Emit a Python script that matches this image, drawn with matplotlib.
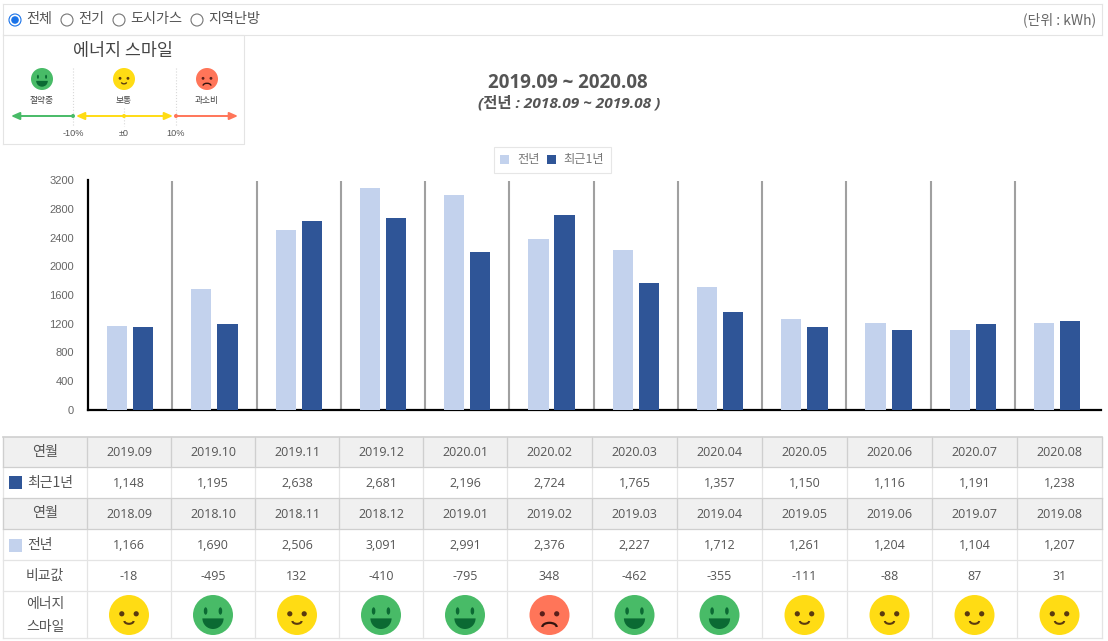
import numpy as np
import matplotlib
matplotlib.use("Agg")
import matplotlib.pyplot as plt
from matplotlib.patches import Circle, Rectangle, Wedge, Arc, Ellipse

plt.rcParams['font.family'] = ['Noto Sans CJK KR', 'DejaVu Sans']

W, H = 1108, 641

months_now = ["2019.09", "2019.10", "2019.11", "2019.12", "2020.01", "2020.02",
              "2020.03", "2020.04", "2020.05", "2020.06", "2020.07", "2020.08"]
months_prev = ["2018.09", "2018.10", "2018.11", "2018.12", "2019.01", "2019.02",
               "2019.03", "2019.04", "2019.05", "2019.06", "2019.07", "2019.08"]
recent = [1148, 1195, 2638, 2681, 2196, 2724, 1765, 1357, 1150, 1116, 1191, 1238]
previous = [1166, 1690, 2506, 3091, 2991, 2376, 2227, 1712, 1261, 1204, 1104, 1207]
diff = [-18, -495, 132, -410, -795, 348, -462, -355, -111, -88, 87, 31]
moods = ["mid", "good", "mid", "good", "good", "bad", "good", "good", "mid", "mid", "mid", "mid"]
yticks = [0, 400, 800, 1200, 1600, 2000, 2400, 2800, 3200]

LIGHT = "#c3d2ed"
DARK = "#2f5597"
TEXT = "#555555"
LINE = "#e4e4e4"
FACE = {"good": "#48bb67", "mid": "#ffdc14", "bad": "#ff7559"}
EYE = {"good": "#0b6a33", "mid": "#5a3a10", "bad": "#5a1f1a"}
LATIN = ["Open Sans", "Noto Sans CJK KR"]


def smile(ax, cx, cy, r, kind):
    ax.add_patch(Circle((cx, cy), r, fc=FACE[kind], ec="none", zorder=5))
    if kind == "good":
        for s in (-1, 1):
            ax.add_patch(Ellipse((cx + s * 0.37 * r, cy - 0.2 * r), 0.18 * r, 0.37 * r,
                                 fc=EYE[kind], ec="none", zorder=6))
        # y axis is flipped here, so 0-180 is the lower half
        ax.add_patch(Wedge((cx, cy + 0.17 * r), 0.53 * r, 0, 180, fc=EYE[kind], ec="none", zorder=6))
    else:
        for s in (-1, 1):
            ax.add_patch(Circle((cx + s * 0.36 * r, cy - 0.06 * r), 0.13 * r,
                                fc=EYE[kind], ec="none", zorder=6))
        if kind == "mid":
            ax.add_patch(Arc((cx, cy + 0.3 * r), 0.46 * r, 0.28 * r, theta1=0, theta2=180,
                             color=EYE[kind], lw=1.2 * r / 20 + 0.3, zorder=6))
        else:
            ax.add_patch(Arc((cx, cy + 0.6 * r), 0.72 * r, 0.42 * r, theta1=180, theta2=360,
                             color="#33140f", lw=1.3 * r / 20 + 0.3, zorder=6))


fig = plt.figure(figsize=(W / 100, H / 100), dpi=100)

# overlay in pixel coordinates for the page furniture
pg = fig.add_axes([0, 0, 1, 1])
pg.set_xlim(0, W)
pg.set_ylim(H, 0)
pg.axis("off")

# bar chart
left, right, top, bottom = 88, 1101, 180.5, 409.5
ax = fig.add_axes([left / W, 1 - bottom / H, (right - left) / W, (bottom - top) / H])
x = np.arange(len(months_now))
ax.bar(x - 0.155, previous, width=0.24, color=LIGHT, zorder=3)
ax.bar(x + 0.155, recent, width=0.24, color=DARK, zorder=3)
ax.vlines(x[1:] - 0.5, 0, 3200, color="#a0a0a0", lw=1.5, zorder=1)
ax.set_xlim(-0.5, 11.52)
ax.set_ylim(0, 3200)
ax.set_xticks([])
ax.set_yticks(yticks)
ax.tick_params(axis="y", length=0, pad=10, labelcolor="#666666")
for lab in ax.get_yticklabels():
    lab.set_family("Liberation Sans")
    lab.set_fontsize(8)
for s in ("top", "right"):
    ax.spines[s].set_visible(False)
for s in ("left", "bottom"):
    ax.spines[s].set_linewidth(1.6)
    ax.spines[s].set_color("black")

# frame and radio row
pg.plot([3, 1102], [4, 4], color=LINE, lw=0.8)
pg.plot([3, 1102], [35, 35], color=LINE, lw=0.8)
pg.plot([3, 3], [4, 144], color=LINE, lw=0.8)
pg.plot([1102, 1102], [4, 35], color=LINE, lw=0.8)
radios = [(15, "전체"), (67, "전기"), (119, "도시가스"), (197, "지역난방")]
for i, (rx, label) in enumerate(radios):
    pg.add_patch(Circle((rx, 20), 6, fc="white", ec="#1a73e8" if i == 0 else "#767676", lw=0.8))
    if i == 0:
        pg.add_patch(Circle((rx, 20), 3.8, fc="#1a73e8", ec="none"))
    pg.text(rx + 11, 19.5, label, fontsize=10.2, color=TEXT, va="center", ha="left")
pg.text(1096, 20, "(단위 : kWh)", fontsize=10, color="#666666", va="center", ha="right")

# smile legend box
pg.plot([3, 244, 244, 3], [144, 144, 35, 35], color=LINE, lw=0.8)
pg.text(123, 51, "에너지 스마일", fontsize=12.5, color="#444444", va="center", ha="center", fontweight="medium")
for vx in (73, 176):
    pg.plot([vx, vx], [68, 126], color="#d8d8d8", lw=0.8, ls=":")
pg.plot([124, 124], [108, 126], color="#d8d8d8", lw=0.8, ls=":")
smile(pg, 42, 79, 11, "good")
smile(pg, 124, 79, 11, "mid")
smile(pg, 207, 79, 11, "bad")
for tx, name in ((42, "절약중"), (124, "보통"), (207, "과소비")):
    pg.text(tx, 100, name, fontsize=6.3, color="#444444", va="center", ha="center")
arrows = [(73, 11, "good", "-|>"), (76, 173, "mid", "<|-|>"), (176, 238, "bad", "-|>")]
for a, b, kind, style in arrows:
    pg.annotate("", xy=(b, 116), xytext=(a, 116),
                arrowprops=dict(arrowstyle=style + ",head_width=0.22,head_length=0.5", color=FACE[kind], lw=1.4,
                                shrinkA=0, shrinkB=0))
for dx, kind in ((73, "good"), (124, "mid"), (176, "bad")):
    pg.add_patch(Circle((dx, 116), 2, fc=FACE[kind], ec="none", zorder=4))
for tx, name in ((73, "-10%"), (124, "±0"), (176, "10%")):
    pg.text(tx, 134, name, fontsize=6.6, color="#555555", va="center", ha="center",
            family=["Liberation Sans", "DejaVu Sans"])

# titles
pg.text(568, 83, "2019.09 ~ 2020.08", fontsize=13.5, color=TEXT, fontweight="bold",
        va="center", ha="center", family=LATIN)
pg.text(569, 103, "(전년 : 2018.09 ~ 2019.08 )", fontsize=11.1, color=TEXT, fontweight="bold",
        style="italic", va="center", ha="center", family=LATIN)

# chart legend
pg.add_patch(Rectangle((494, 147), 117, 26, fc="white", ec="#e6e6e6", lw=0.8))
pg.add_patch(Rectangle((500, 155), 9, 9, fc=LIGHT, ec="none"))
pg.text(517, 160, "전년", fontsize=8.8, color="#777777", va="center")
pg.add_patch(Rectangle((547, 155), 9, 9, fc=DARK, ec="none"))
pg.text(563, 160, "최근1년", fontsize=8.8, color="#777777", va="center")

# table below the chart
col_x = [3, 87, 171, 255, 339, 423, 507, 592, 677, 762, 847, 932, 1017, 1102]
row_y = [437, 467, 498, 529, 560, 591, 638]
for r in (0, 2):
    pg.add_patch(Rectangle((col_x[0], row_y[r]), col_x[-1] - col_x[0], row_y[r + 1] - row_y[r],
                           fc="#f0f0f0", ec="none", zorder=0))
for i, yy in enumerate(row_y):
    heavy = i in (0, 1, 2, 3)
    pg.plot([col_x[0], col_x[-1]], [yy, yy], color="#cfcfcf" if heavy else LINE, lw=1.2 if i == 0 else 0.9, zorder=1)
for i, xx in enumerate(col_x):
    pg.plot([xx, xx], [row_y[0], row_y[-1]], color=LINE, lw=0.9, zorder=1)
    pg.plot([xx, xx], [row_y[0], row_y[1]], color="#cfcfcf", lw=0.9, zorder=1)
    pg.plot([xx, xx], [row_y[2], row_y[3]], color="#cfcfcf", lw=0.9, zorder=1)


def mid_y(r):
    return (row_y[r] + row_y[r + 1]) / 2


pg.text(45, mid_y(0), "연월", fontsize=10.2, color=TEXT, va="center", ha="center")
pg.text(45, mid_y(2), "연월", fontsize=10.2, color=TEXT, va="center", ha="center")
pg.add_patch(Rectangle((9, 476), 13, 13, fc=DARK, ec="none"))
pg.text(27, 483, "최근1년", fontsize=10, color=TEXT, va="center", ha="left")
pg.add_patch(Rectangle((9, 539), 13, 13, fc=LIGHT, ec="none"))
pg.text(27, 545, "전년", fontsize=10, color=TEXT, va="center", ha="left")
pg.text(45, mid_y(4), "비교값", fontsize=10, color=TEXT, va="center", ha="center")
pg.text(45, 604, "에너지", fontsize=10, color=TEXT, va="center", ha="center")
pg.text(45, 627, "스마일", fontsize=10, color=TEXT, va="center", ha="center")

for c in range(12):
    cx = (col_x[c + 1] + col_x[c + 2]) / 2
    cells = [months_now[c], f"{recent[c]:,}", months_prev[c], f"{previous[c]:,}", f"{diff[c]}"]
    for r, val in enumerate(cells):
        pg.text(cx, mid_y(r) + 1, val, fontsize=9, color=TEXT, va="center", ha="center", family=LATIN)
    smile(pg, cx, 615, 20, moods[c])

fig.savefig("out.png", dpi=100)
